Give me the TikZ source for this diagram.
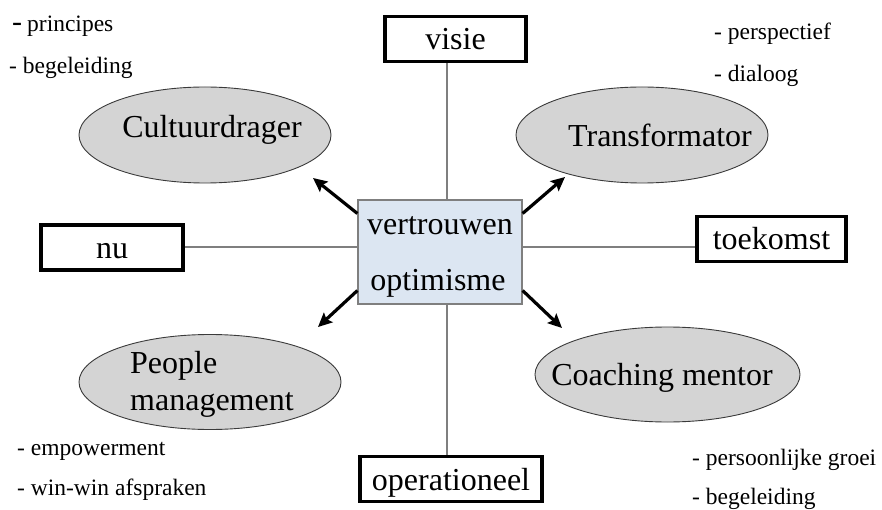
\documentclass[tikz,border=0pt]{standalone}
\usepackage{fontspec}
\setmainfont{Liberation Serif}
\usetikzlibrary{shapes.geometric,arrows.meta}
\definecolor{corefill}{HTML}{DCE6F2}
\definecolor{ovalfill}{HTML}{D4D4D4}
\definecolor{axisgray}{HTML}{7F7F7F}
\definecolor{ovalline}{HTML}{3A3A3A}

\begin{document}
\begin{tikzpicture}[x=1pt,y=-1pt,
  bigtext/.style={font=\fontsize{32}{38}\selectfont,inner sep=0pt},
  smalltext/.style={font=\fontsize{23.5}{28}\selectfont,inner sep=0pt,anchor=base west},
  axisbox/.style={draw=black,line width=3.5pt,fill=white,inner sep=0pt,
    minimum height=45pt,text height=23pt,text depth=1pt,
    font=\fontsize{32}{38}\selectfont},
  corebox/.style={draw=axisgray,line width=1.2pt,fill=corefill,inner sep=0pt},
  oval/.style={ellipse,draw=ovalline,line width=0.9pt,fill=ovalfill,inner sep=0pt},
  axisline/.style={draw=axisgray,line width=1.3pt},
  push/.style={draw=black,line width=3.2pt,-{Stealth[length=14pt,width=13pt,inset=2.5pt]}}
]
\useasboundingbox (0,0) rectangle (882,510);

% central box
\node[corebox,minimum width=164pt,minimum height=104pt] (core) at (440,252) {};
\node[bigtext,anchor=base] (coreA) at (440,235) {vertrouwen};
\node[bigtext,anchor=base] (coreB) at (438,290) {optimisme};

% four axis labels
\node[axisbox,minimum width=141pt] (visie) at (455.5,39) {visie};
\node[axisbox,minimum width=182pt] (oper) at (451,479) {operationeel};
\node[axisbox,minimum width=142pt] (nu) at (112,247.5) {nu};
\node[axisbox,minimum width=149pt] (toek) at (771.5,239) {toekomst};

% axes through the centre
\coordinate (vx) at (447,0);
\coordinate (hy) at (0,247);
\draw[axisline] (visie.south -| vx) -- (core.north -| vx);
\draw[axisline] (core.south -| vx) -- (oper.north -| vx);
\draw[axisline] (nu.east |- hy) -- (core.west |- hy);
\draw[axisline] (core.east |- hy) -- (toek.west |- hy);

% the four roles
\node[oval,minimum width=252pt,minimum height=96pt] (cult) at (205,135) {};
\node[bigtext,anchor=base] (cultT) at (212,138) {Cultuurdrager};
\node[oval,minimum width=252pt,minimum height=96pt] (trans) at (642,135) {};
\node[bigtext,anchor=base] (transT) at (660,147) {Transformator};
\node[oval,minimum width=262pt,minimum height=95pt] (people) at (210,382) {};
\node[bigtext,anchor=base west] (peopleA) at (130,373) {People};
\node[bigtext,anchor=base west] (peopleB) at (130,410) {management};
\node[oval,minimum width=265pt,minimum height=95pt] (coach) at (667.5,374.5) {};
\node[bigtext,anchor=base] (coachT) at (662,385) {Coaching mentor};

% arrows from the centre towards the roles
\coordinate (tipNW) at (313,178);
\coordinate (tipNE) at (565,177);
\coordinate (tipSW) at (318,327);
\coordinate (tipSE) at (562,328);
\draw[push] (core.155) -- (tipNW);
\draw[push] (core.25) -- (tipNE);
\draw[push] (core.205) -- (tipSW);
\draw[push] (core.335) -- (tipSE);

% notes next to each role
\node[smalltext] (n1) at (12,32) {{\fontsize{30}{30}\selectfont -}\hspace{5pt}principes};
\node[smalltext] (n2) at (9,74) {- begeleiding};
\node[smalltext] (n3) at (714,40) {- perspectief};
\node[smalltext] (n4) at (714,82) {- dialoog};
\node[smalltext] (n5) at (17,455) {- empowerment};
\node[smalltext] (n6) at (17,495) {- win-win afspraken};
\node[smalltext] (n7) at (692,465) {- persoonlijke groei};
\node[smalltext] (n8) at (692,504) {- begeleiding};
\end{tikzpicture}
\end{document}
